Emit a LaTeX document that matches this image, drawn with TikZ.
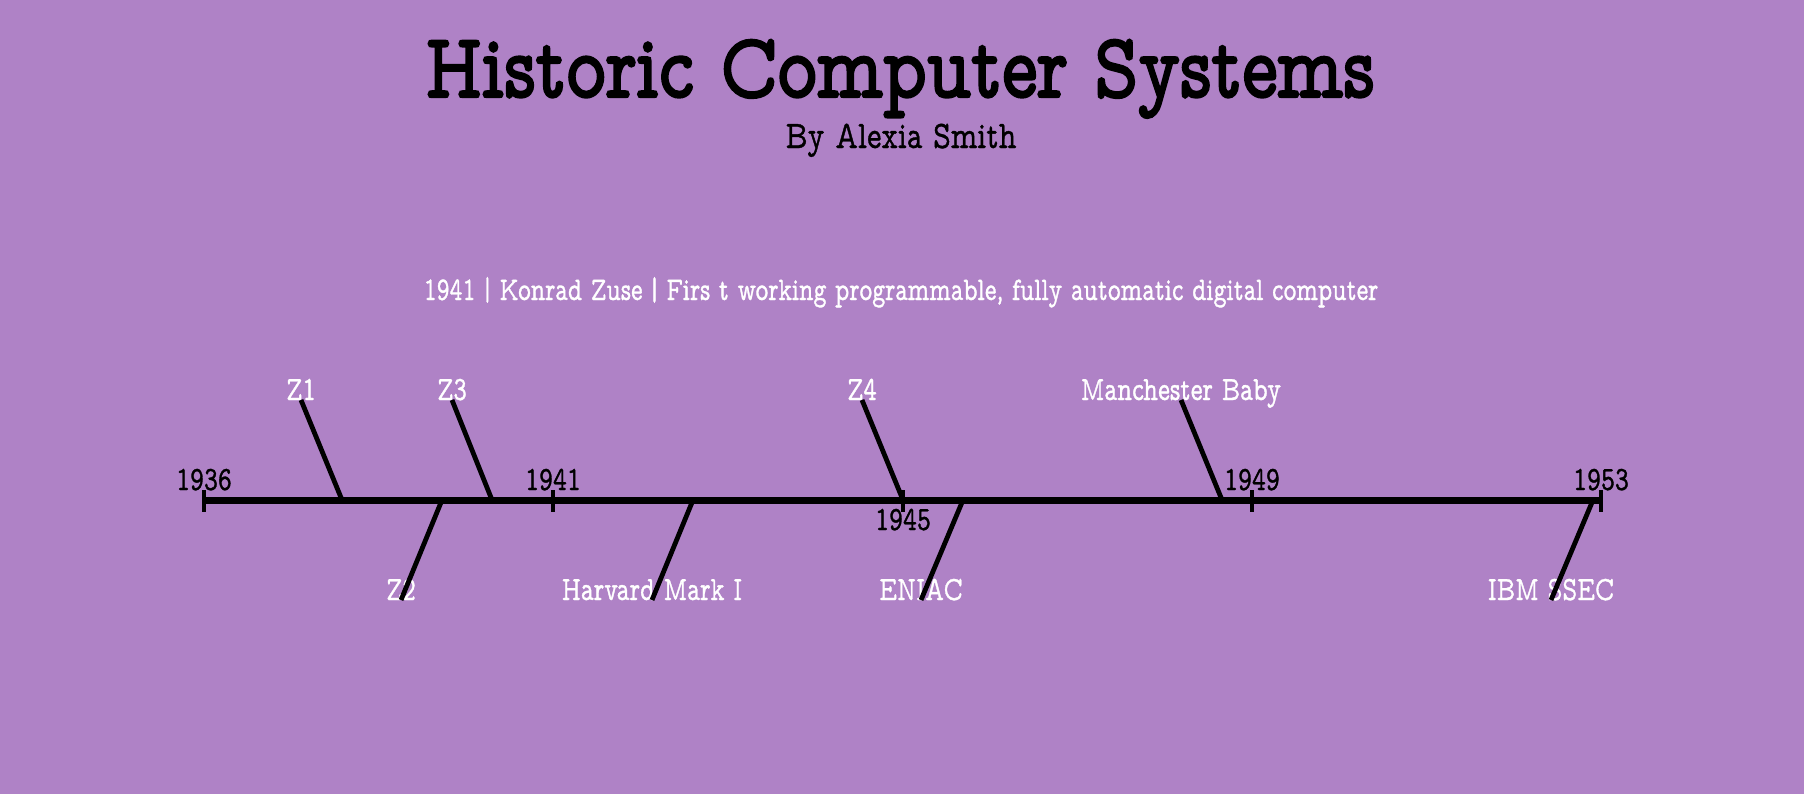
\documentclass[tikz,border=0pt]{standalone}
\usepackage{fontspec}
\usepackage{xcolor}
\usepackage{tikz}
\usetikzlibrary{positioning, calc}
\newfontfamily\typefont[FakeStretch=0.78, FakeBold=1]{lmmonoprop10-regular.otf}
\newfontfamily\labelfont[FakeStretch=0.745, FakeBold=1]{lmmonoprop10-regular.otf}
\newfontfamily\headfont[FakeStretch=0.82, FakeBold=2.5]{lmmonoprop10-regular.otf}
\definecolor{bgpurple}{RGB}{175,130,198}
\tikzset{
  headline/.style  = {inner sep=0pt, anchor=base, text=black,
                      font=\headfont\fontsize{46}{50}\selectfont},
  byline/.style    = {inner sep=0pt, anchor=base, text=black,
                      font=\typefont\fontsize{19.5}{22}\selectfont},
  infoline/.style  = {inner sep=0pt, anchor=base, text=white,
                      font=\labelfont\fontsize{16.5}{19}\selectfont},
  yearlabel/.style = {inner sep=0pt, anchor=base, text=black,
                      font=\typefont\fontsize{17}{19}\selectfont},
  eventlabel/.style= {inner sep=0pt, anchor=base, text=white,
                      font=\labelfont\fontsize{17}{19}\selectfont},
  axisline/.style  = {line width=3.5pt, black},
  tickline/.style  = {line width=2.2pt, black},
  eventline/.style = {line width=2.4pt, black},
}

\begin{document}
\begin{tikzpicture}[x=0.5pt, y=-0.5pt]
  % window background
  \fill[bgpurple] (0,0) rectangle (1804,794);
  \useasboundingbox (0,0) rectangle (1804,794);

  % headings
  \node[headline] (title) at (900,97) {Historic Computer Systems};
  \node[byline] (author) at (901,148) {By Alexia Smith};
  \node[infoline] (info) at (901,300)
    {1941\,|\,Konrad Zuse\,|\,Firs t working programmable, fully automatic digital computer};

  % timeline and year ticks
  \coordinate (y1936) at (204,500);
  \coordinate (y1941) at (553,500);
  \coordinate (y1945) at (903,500);
  \coordinate (y1949) at (1252,500);
  \coordinate (y1953) at (1601,500);
  \draw[axisline] (y1936) -- (y1953);
  \foreach \yr in {1936,1941,1945,1949,1953}
    \draw[tickline] ($(y\yr)+(0,-10)$) -- ($(y\yr)+(0,12)$);

  \node[yearlabel] (l1936) at (204,490) {1936};
  \node[yearlabel] (l1941) at (553,490) {1941};
  \node[yearlabel] (l1945) at (903,530) {1945};
  \node[yearlabel] (l1949) at (1252,490) {1949};
  \node[yearlabel] (l1953) at (1601,490) {1953};

  % points on the timeline
  \coordinate (pz1) at (342,500);
  \coordinate (pz2) at (442,500);
  \coordinate (pz3) at (492,500);
  \coordinate (pmark) at (693,500);
  \coordinate (pz4) at (903,500);
  \coordinate (peniac) at (963,500);
  \coordinate (pbaby) at (1222,500);
  \coordinate (pssec) at (1593,500);

  % machines above the line
  \node[eventlabel] (z1) at (301,400) {Z1};
  \node[eventlabel] (z3) at (452,400) {Z3};
  \node[eventlabel] (z4) at (862,400) {Z4};
  \node[eventlabel] (baby) at (1181,400) {Manchester Baby};

  % machines below the line
  \node[eventlabel] (z2) at (401,600) {Z2};
  \node[eventlabel] (mark) at (652,600) {Harvard Mark I};
  \node[eventlabel] (eniac) at (921,600) {ENIAC};
  \node[eventlabel] (ssec) at (1551,600) {IBM SSEC};

  \draw[eventline] (z1.base) -- (pz1);
  \draw[eventline] (z3.base) -- (pz3);
  \draw[eventline] (z4.base) -- (pz4);
  \draw[eventline] (baby.base) -- (pbaby);
  \draw[eventline] (pz2) -- (z2.base);
  \draw[eventline] (pmark) -- (mark.base);
  \draw[eventline] (peniac) -- (eniac.base);
  \draw[eventline] (pssec) -- (ssec.base);
\end{tikzpicture}
\end{document}
